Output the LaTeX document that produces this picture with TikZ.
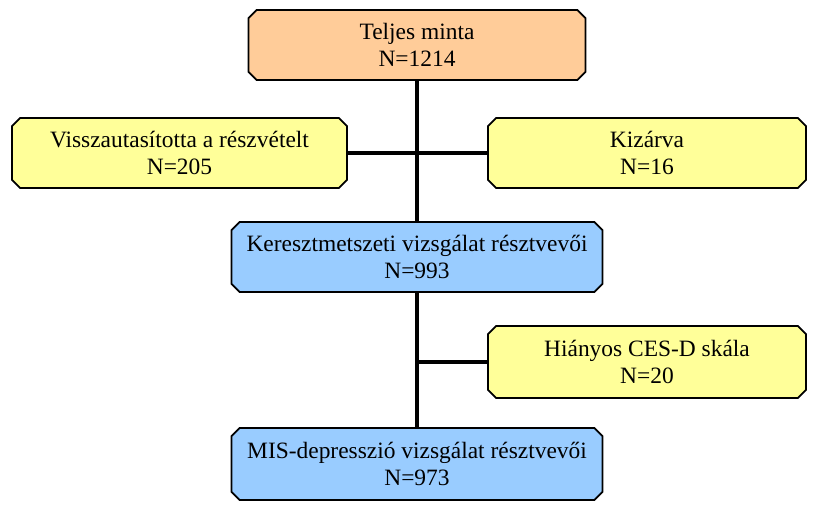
\documentclass[tikz,border=0pt]{standalone}
\usepackage{fontspec}
\setmainfont{Liberation Serif}
\usetikzlibrary{shapes.misc}
\definecolor{boxorange}{HTML}{FFCC99}
\definecolor{boxyellow}{HTML}{FFFF99}
\definecolor{boxblue}{HTML}{99CCFF}
\tikzset{
  flowbox/.style={chamfered rectangle, chamfered rectangle xsep=3.5pt, chamfered rectangle ysep=3.5pt,
    draw=black, line width=1.5pt, align=center, inner sep=0pt,
    font=\fontsize{20}{23.5}\selectfont},
  link/.style={line width=2.6pt}
}

\begin{document}
\begin{tikzpicture}[x=0.03cm, y=-0.03cm]
			%%%%% START %%%%%
			\useasboundingbox (0, 0) rectangle (813, 506);
			
			\node[flowbox, fill=boxorange, minimum width=10.11cm, minimum height=2.1cm] (total) at (417, 45) {Teljes minta\\N=1214};
			
			\node[flowbox, fill=boxyellow, minimum width=10.05cm, minimum height=2.1cm] (refused) at (179.5, 153) {Visszautasította a részvételt\\N=205};
			\node[flowbox, fill=boxyellow, minimum width=9.54cm, minimum height=2.1cm] (excluded) at (647, 153) {Kizárva\\N=16};
			
			\node[flowbox, fill=boxblue, minimum width=11.13cm, minimum height=2.1cm] (cross) at (417, 257) {Keresztmetszeti vizsgálat résztvevői\\N=993};
			
			\node[flowbox, fill=boxyellow, minimum width=9.54cm, minimum height=2.16cm] (missing) at (647, 362) {Hiányos CES-D skála\\N=20};
			
			\node[flowbox, fill=boxblue, minimum width=11.13cm, minimum height=2.16cm] (mis) at (417, 464) {MIS-depresszió vizsgálat résztvevői\\N=973};
			
			\draw[link] (total.south) -- (cross.north);
			\draw[link] (refused.east) -- (excluded.west);
			\draw[link] (cross.south) -- (mis.north);
			\draw[link] (missing.west) -- (cross.south |- missing.west);
			
			%%%%% END %%%%%
\end{tikzpicture}
\end{document}
